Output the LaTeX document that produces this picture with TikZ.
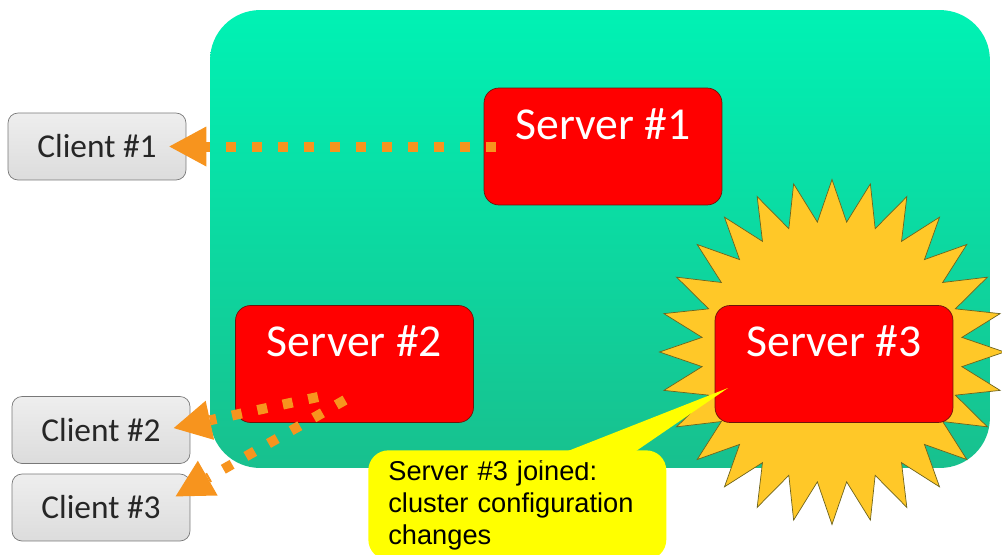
\documentclass[tikz,border=0pt]{standalone}
\usepackage{fontspec}
\setmainfont{Carlito}
\newfontfamily\notefont{Liberation Sans}
\usetikzlibrary{arrows.meta,shapes.geometric}

\definecolor{clustertop}{RGB}{0,242,180}
\definecolor{clusterbot}{RGB}{24,192,142}
\definecolor{serverred}{RGB}{255,0,0}
\definecolor{serverline}{RGB}{110,20,10}
\definecolor{burstfill}{RGB}{255,200,40}
\definecolor{burstline}{RGB}{110,100,30}
\definecolor{clienttop}{RGB}{238,238,238}
\definecolor{clientbot}{RGB}{220,220,220}
\definecolor{clientline}{RGB}{120,120,120}
\definecolor{flowline}{RGB}{247,148,30}
\definecolor{notefill}{RGB}{255,255,0}

\begin{document}
\begin{tikzpicture}[x=0.02cm,y=-0.02cm]
\tikzset{
  cluster/.style={rounded corners=1cm,top color=clustertop,bottom color=clusterbot,minimum width=15.6cm,minimum height=9.16cm,inner sep=0pt},
  server/.style={draw=serverline,fill=serverred,rounded corners=0.3cm,minimum width=4.76cm,inner xsep=0pt,inner ysep=0pt,text height=1.02cm,text depth=1.32cm,text=white,font=\fontsize{26}{30}\selectfont},
  burst/.style={star,star points=28,star point ratio=1.32,minimum size=6.9cm,inner sep=0pt,draw=burstline,fill=burstfill},
  client/.style={draw=clientline,top color=clienttop,bottom color=clientbot,rounded corners=0.2cm,minimum width=3.56cm,minimum height=1.34cm,text=black!85,font=\fontsize{19}{22}\selectfont},
  note/.style={fill=notefill,rounded corners=0.4cm,anchor=north west,text width=5.16cm,align=left,inner xsep=0.4cm,inner ysep=0.2cm,font=\notefont\fontsize{15.5}{18.2}\selectfont},
  flow/.style={draw=flowline,line width=0.2cm,dash pattern=on 0.2cm off 0.32cm,-{Triangle[length=0.74cm,width=0.8cm,line width=0pt]},shorten >=-0.34cm}
}
\useasboundingbox (0,0) rectangle (1002,555);
\fill[white] (0,0) rectangle (1002,555);
\node[cluster] (n_cluster) at (600,239) {};
\node[server] (n_s1) at (603,146.5) {Server \#1};
\node[server] (n_s2) at (354.5,364) {Server \#2};
\node[burst] (n_burst) at (832,352) {};
\node[server] (n_s3) at (834,364) {Server \#3};
\node[client] (n_c1) at (97,146.5) {Client \#1};
\node[client] (n_c2) at (101,430) {Client \#2};
\node[client] (n_c3) at (101,507.5) {Client \#3};
\draw[flow] ([shift={(-107,0)}]n_s1.center) -- (n_c1.east);
\draw[flow] ([shift={(-36.5,33)}]n_s2.center) -- ([yshift=0.11cm]n_c2.east);
\draw[flow] ([shift={(-9.5,36)}]n_s2.center) -- ([yshift=0.39cm]n_c3.east);
\coordinate (n_tip) at ([shift={(-106,24)}]n_s3.center);
\node[note] (n_note) at (368,450) {Server \#3 joined:\\cluster configuration\\changes};
\fill[notefill] ([shift={(172,12)}]n_note.north west) -- (n_tip) -- ([shift={(252,12)}]n_note.north west) -- cycle;
\end{tikzpicture}
\end{document}
